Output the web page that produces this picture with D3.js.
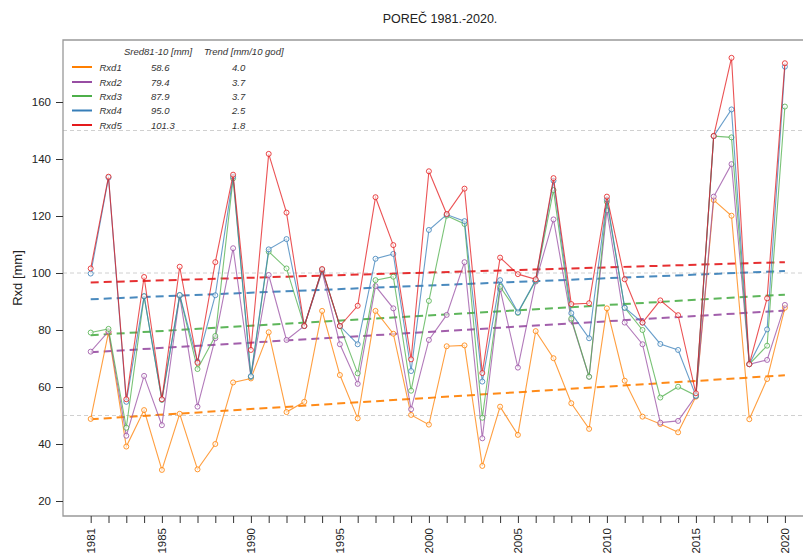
<!DOCTYPE html>
<html><head><meta charset="utf-8">
<script src="https://cdn.jsdelivr.net/npm/d3@7"></script>
<style>
body{margin:0;background:#fff;}
svg{display:block;font-family:"Liberation Sans",Arial,sans-serif;}
</style></head><body>
<svg id="chart" width="803" height="555"></svg>
<script>
const years = d3.range(1981, 2021);
const seriesNames = ["Rxd1","Rxd2","Rxd3","Rxd4","Rxd5"];
const colors = ["#ff7f00","#984ea3","#4daf4a","#377eb8","#e41a1c"];
const sredValues = ["58.6","79.4","87.9","95.0","101.3"];
const trendValues = ["4.0","3.7","3.7","2.5","1.8"];
const rxd1 = [48.8,79.2,39.1,51.9,30.9,50.6,31.1,40.0,61.6,63.0,79.2,51.2,54.8,86.7,64.2,49.0,86.7,78.7,50.2,46.8,74.3,74.6,32.3,53.1,43.2,79.6,70.1,54.3,45.3,87.6,62.2,49.6,47.0,44.1,56.6,125.6,120.1,48.7,62.8,87.8];
const rxd2 = [72.4,79.5,42.9,63.9,46.6,92.0,53.1,77.1,108.7,63.6,99.3,76.5,81.4,100.5,75.0,61.1,95.4,87.6,52.2,76.5,85.3,103.8,42.0,94.4,66.8,97.0,118.8,83.5,63.6,122.0,82.6,75.0,47.5,48.1,56.9,126.8,138.2,68.0,69.5,88.8];
const rxd3 = [79.1,80.4,45.7,91.8,55.5,92.2,66.3,77.9,133.2,63.6,107.5,101.6,81.4,101.1,81.4,64.8,97.5,98.7,58.7,90.2,120.1,117.2,49.2,95.2,86.0,97.3,129.1,84.0,63.6,125.0,87.8,80.0,56.3,60.1,57.0,148.0,147.6,68.0,74.5,158.4];
const rxd4 = [99.8,133.5,54.8,91.9,55.6,92.3,68.9,92.2,133.8,63.8,108.3,111.9,81.4,101.2,81.4,75.0,105.0,106.7,65.6,115.1,120.5,118.2,61.9,97.5,86.2,97.5,132.4,85.9,77.1,125.8,87.8,82.6,75.1,73.0,56.9,148.0,157.4,68.0,80.2,172.4];
const rxd5 = [101.6,133.8,55.7,98.6,55.7,102.2,68.5,103.8,134.5,73.0,141.8,121.2,81.4,101.4,81.4,88.5,126.6,109.8,69.7,135.7,120.7,129.6,64.9,105.4,99.6,97.8,133.3,89.1,89.4,126.8,97.8,82.6,90.4,85.2,57.8,148.1,175.5,68.0,91.1,173.6];
const trendStart = [48.7,72.2,78.2,90.8,96.7];
const trendEnd = [64.1,86.8,92.4,100.7,103.8];
const yTicks = [20,40,60,80,100,120,140,160];
const xLabelYears = [1981,1985,1990,1995,2000,2005,2010,2015,2020];
const gridValues = [50,100,150];
const allSeries = [rxd1,rxd2,rxd3,rxd4,rxd5];

const svg = d3.select("#chart");
const x = d3.scaleLinear().domain([1981,2020]).range([90.7,784.9]);
const y = d3.scaleLinear().domain([20,160]).range([501,102]);
const plotL = 63, plotT = 40, plotB = 516, plotR = 803;

// title
svg.append("text").attr("x",440).attr("y",23).attr("text-anchor","middle")
  .attr("font-size","12.5px").attr("fill","#222").text("POREČ 1981.-2020.");

// grid
svg.append("g").selectAll("line").data(gridValues).join("line")
  .attr("x1",plotL).attr("x2",plotR).attr("y1",d=>y(d)).attr("y2",d=>y(d))
  .attr("stroke","#d0d0d0").attr("stroke-dasharray","4,3").attr("stroke-width",1);

// box
svg.append("path").attr("d",`M${plotR},${plotT}H${plotL}V${plotB}H${plotR}`)
  .attr("fill","none").attr("stroke","#999").attr("stroke-width",1.3);

// y axis
const yAxis = svg.append("g").attr("transform",`translate(${plotL},0)`)
  .call(d3.axisLeft(y).tickValues(yTicks).tickSize(7).tickPadding(5));
yAxis.select(".domain").remove();
yAxis.selectAll("line").attr("stroke","#333");
yAxis.selectAll("text").attr("font-size","11.5px").attr("fill","#222").attr("font-family","Liberation Sans, Arial, sans-serif");

// x axis
const xAxis = svg.append("g").attr("transform",`translate(0,${plotB})`)
  .call(d3.axisBottom(x).tickValues(years).tickSize(7).tickFormat(""));
xAxis.select(".domain").remove();
xAxis.selectAll("line").attr("stroke","#333");
svg.append("g").selectAll("text").data(xLabelYears).join("text")
  .attr("transform",d=>`translate(${x(d)},528) rotate(-90)`)
  .attr("text-anchor","end").attr("dy","0.35em")
  .attr("font-size","11.5px").attr("fill","#222").text(d=>d);

// y label
svg.append("text").attr("transform","translate(22,278) rotate(-90)")
  .attr("text-anchor","middle").attr("font-size","13px").attr("fill","#222").text("Rxd [mm]");

// trend lines
svg.append("g").selectAll("line").data(seriesNames).join("line")
  .attr("x1",x(1981)).attr("x2",x(2020))
  .attr("y1",(d,i)=>y(trendStart[i])).attr("y2",(d,i)=>y(trendEnd[i]))
  .attr("stroke",(d,i)=>colors[i]).attr("stroke-width",2)
  .attr("stroke-dasharray","8,5").attr("opacity",0.9);

// data lines
const line = d3.line().x((d,i)=>x(years[i])).y(d=>y(d));
allSeries.forEach((s,k)=>{
  const g = svg.append("g");
  g.append("path").datum(s).attr("d",line).attr("fill","none")
    .attr("stroke",colors[k]).attr("stroke-width",1.1).attr("stroke-opacity",0.75);
  g.selectAll("circle").data(s).join("circle")
    .attr("cx",(d,i)=>x(years[i])).attr("cy",d=>y(d)).attr("r",2.5)
    .attr("fill","#fff").attr("fill-opacity",0.6)
    .attr("stroke",colors[k]).attr("stroke-width",1).attr("stroke-opacity",0.8);
});

// legend
const leg = svg.append("g").attr("font-style","italic").attr("font-size","9.5px").attr("fill","#333");
leg.append("text").attr("x",124).attr("y",55).text("Sred81-10 [mm]");
leg.append("text").attr("x",204).attr("y",55).text("Trend [mm/10 god]");
const rowY = [67,82,96,110.5,125];
seriesNames.forEach((n,i)=>{
  leg.append("line").attr("x1",72).attr("x2",92).attr("y1",rowY[i]).attr("y2",rowY[i])
    .attr("stroke",colors[i]).attr("stroke-width",2);
  leg.append("text").attr("x",99.5).attr("y",rowY[i]+3.5).text(n);
  leg.append("text").attr("x",151).attr("y",rowY[i]+3.5).text(sredValues[i]);
  leg.append("text").attr("x",232).attr("y",rowY[i]+3.5).text(trendValues[i]);
});
</script>
</body></html>
